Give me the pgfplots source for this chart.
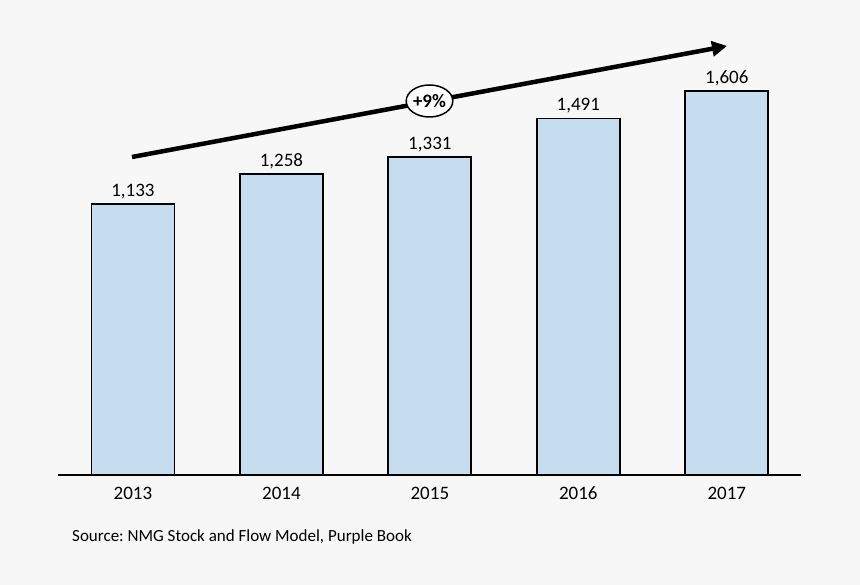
\documentclass[border=0pt]{standalone}
\usepackage{pgfplots}
\pgfplotsset{compat=1.18}
\usepackage{fontspec}
\setmainfont{Carlito}
\usetikzlibrary{arrows.meta,shapes.geometric}
\definecolor{bg}{HTML}{F7F7F7}
\definecolor{barblue}{HTML}{C6DDEF}
\frenchspacing
\begin{document}
\begin{tikzpicture}[x=1pt,y=1pt]
  \fill[bg] (0,0) rectangle (860,585);
  \begin{axis}[
    at={(58pt,110pt)}, anchor=south west,
    scale only axis,
    width=743pt, height=435pt,
    xmin=-0.505, xmax=4.5,
    ymin=0, ymax=1819,
    axis x line=bottom,
    axis y line=none,
    axis line style={-, line width=1.8pt, black},
    xtick=data,
    xticklabels={2013,2014,2015,2016,2017},
    major tick length=0pt,
    xticklabel style={font=\fontsize{19}{19}\selectfont, anchor=base, yshift=-25pt},
    ybar, bar width=83pt,
    nodes near coords,
    nodes near coords style={font=\fontsize{19}{19}\selectfont, yshift=1pt,
      /pgf/number format/.cd, 1000 sep={,}},
    /pgf/number format/assume math mode=true,
    clip=false,
  ]
    \addplot[draw=black, line width=1.8pt, fill=barblue]
      coordinates {(0,1133) (1,1258) (2,1331) (3,1491) (4,1606)};
  \end{axis}
  \draw[line width=4.5pt, -{Triangle[length=15pt,width=15pt]}] (132,428) -- (727,539);
  \node[ellipse, draw=black, line width=1.5pt, fill=white, minimum width=46pt,
    minimum height=32pt, inner sep=0pt, font=\bfseries\fontsize{19}{19}\selectfont]
    at (429.5,484) {+9\%};
  \node[anchor=base west, inner sep=0pt, font=\fontsize{17}{17}\selectfont] at (72,43)
    {Source: NMG Stock and Flow Model, Purple Book};
\end{tikzpicture}
\end{document}
